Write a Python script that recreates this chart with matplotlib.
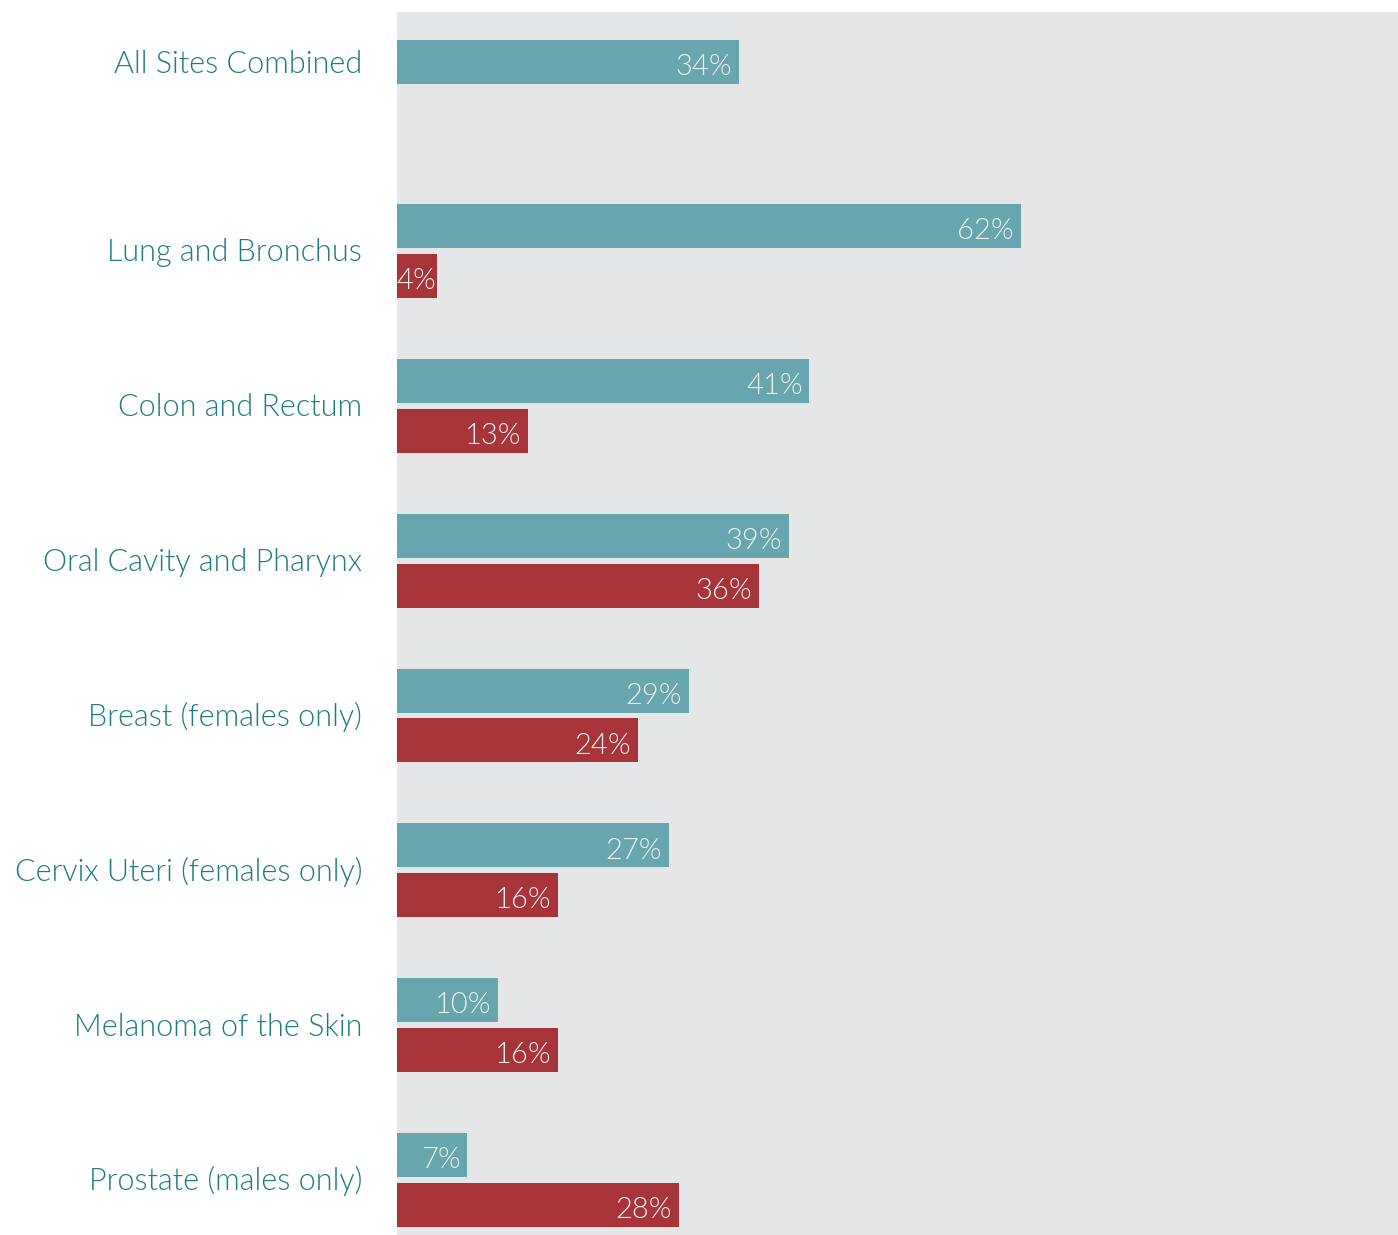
import numpy as np
import matplotlib
matplotlib.use('Agg')
import matplotlib.pyplot as plt

sites = ['All Sites Combined', 'Lung and Bronchus', 'Colon and Rectum',
         'Oral Cavity and Pharynx', 'Breast (females only)',
         'Cervix Uteri (females only)', 'Melanoma of the Skin',
         'Prostate (males only)']
teal_pct = [34, 62, 41, 39, 29, 27, 10, 7]
red_pct = [None, 4, 13, 36, 24, 16, 16, 28]

TEAL = '#67a5af'
RED = '#a63439'
LABEL_COLOR = '#1f7b82'
BG = '#e5e6e8'

plt.rcParams['font.family'] = ['Lato', 'DejaVu Sans']


def main():
    fig = plt.figure(figsize=(13.98, 12.35), dpi=100)
    ax = fig.add_axes([397 / 1398, 0, 1 - 397 / 1398, 1 - 12 / 1235])
    ax.set_facecolor(BG)

    # the first row stands apart from the paired rows below it
    pos = np.arange(len(sites)) + 0.22 * (np.arange(len(sites)) > 0)
    h = 0.284
    off = 0.161

    for i, y in enumerate(pos):
        if red_pct[i] is None:
            bars = [(y, teal_pct[i], TEAL)]
        else:
            bars = [(y - off, teal_pct[i], TEAL), (y + off, red_pct[i], RED)]
        for yy, v, c in bars:
            ax.barh(yy, v, height=h, color=c, left=0)
            # very short bars get a tighter pad so the label still fits
            pad = -1 if v < 5 else -5
            ax.annotate(f'{v}%', xy=(v, yy), xytext=(pad, -9.5),
                        textcoords='offset points', ha='right', va='baseline',
                        fontsize=21, color='#f0f0f0', fontweight=300)
        ax.annotate(sites[i], xy=(0, y), xytext=(-25, -7.5),
                    textcoords='offset points', ha='right', va='baseline',
                    fontsize=22, color=LABEL_COLOR, fontweight=300,
                    annotation_clip=False)

    ax.set_xlim(0, 99.5)
    ax.set_ylim(7.575, -0.324)
    ax.set_xticks([])
    ax.set_yticks([])
    for s in ax.spines.values():
        s.set_visible(False)

    fig.savefig('out.png', dpi=100, facecolor='white')


if __name__ == '__main__':
    main()
